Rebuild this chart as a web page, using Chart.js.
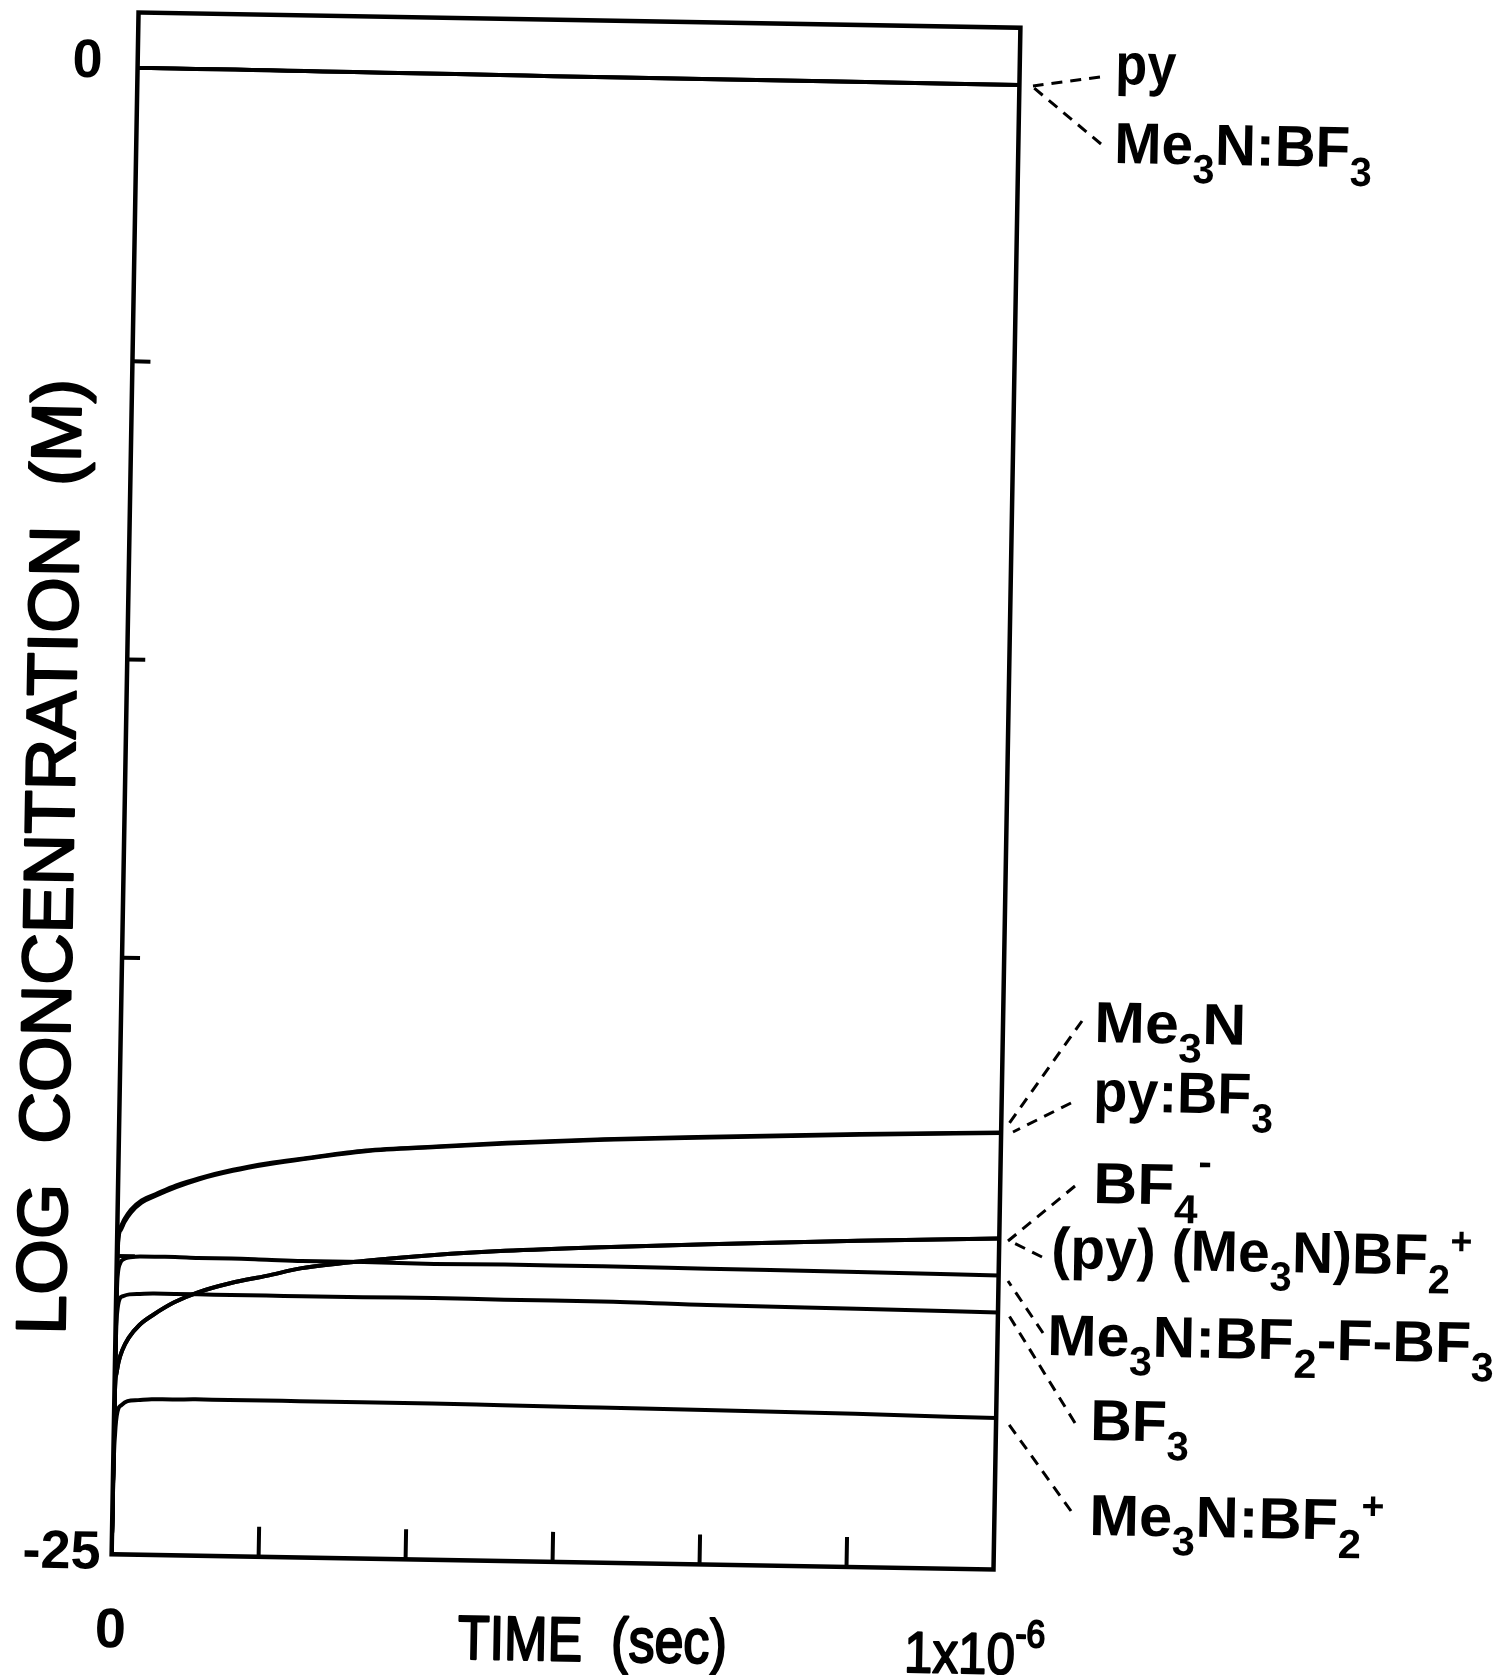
<!DOCTYPE html>
<html>
<head>
<meta charset="utf-8">
<script src="https://cdn.jsdelivr.net/npm/chart.js@4.4.1/dist/chart.umd.min.js"></script>
<style>
html,body{margin:0;padding:0;background:#fff;}
canvas{display:block;}
</style>
</head>
<body>
<canvas id="c" width="1502" height="1675"></canvas>
<script>
// ---------------- DATA ----------------
const TIME_S = [0, 5e-10, 1.5e-9, 4e-9, 8e-9, 1.5e-8, 2.7e-8, 4.3e-8, 6.6e-8, 9.2e-8, 1.3e-7, 1.7e-7, 2.1e-7, 2.8e-7, 3.6e-7, 4.4e-7, 5.5e-7, 6.7e-7, 8.4e-7, 1e-6];

const PY             = [-0.08,-0.08,-0.08,-0.08,-0.08,-0.08,-0.08,-0.08,-0.08,-0.08,-0.08,-0.085,-0.085,-0.09,-0.09,-0.095,-0.10,-0.10,-0.105,-0.11];
const ME3N_BF3       = [-0.08,-0.08,-0.08,-0.08,-0.08,-0.08,-0.08,-0.08,-0.08,-0.08,-0.08,-0.085,-0.085,-0.09,-0.09,-0.095,-0.10,-0.10,-0.105,-0.11];
const ME3N           = [-25,-20.6,-19.65,-19.5,-19.38,-19.22,-19.06,-18.95,-18.80,-18.67,-18.52,-18.40,-18.31,-18.16,-18.07,-17.99,-17.90,-17.83,-17.74,-17.67];
const PY_BF3         = [-25,-20.8,-19.72,-19.56,-19.43,-19.27,-19.10,-18.98,-18.83,-18.69,-18.54,-18.42,-18.32,-18.17,-18.08,-18.00,-17.91,-17.84,-17.75,-17.68];
const BF4            = [-25,-22.3,-22.0,-21.78,-21.58,-21.37,-21.15,-20.97,-20.76,-20.59,-20.42,-20.29,-20.15,-20.01,-19.89,-19.80,-19.71,-19.63,-19.53,-19.45];
const PY_ME3N_BF2    = [-25,-22.3,-22.0,-21.78,-21.58,-21.37,-21.15,-20.97,-20.76,-20.59,-20.42,-20.29,-20.15,-20.01,-19.89,-19.80,-19.71,-19.63,-19.53,-19.45];
const ME3N_BF2_F_BF3 = [-25,-21.0,-20.3,-20.12,-20.05,-20.02,-20.0,-20.0,-20.0,-20.01,-20.01,-20.02,-20.03,-20.03,-20.04,-20.03,-20.03,-20.04,-20.05,-20.07];
const BF3            = [-25,-21.6,-20.95,-20.72,-20.67,-20.64,-20.63,-20.62,-20.62,-20.62,-20.62,-20.62,-20.62,-20.62,-20.61,-20.62,-20.62,-20.65,-20.67,-20.69];
const ME3N_BF2       = [-25,-23.6,-23.0,-22.6,-22.5,-22.43,-22.41,-22.39,-22.39,-22.38,-22.38,-22.38,-22.38,-22.38,-22.38,-22.39,-22.40,-22.41,-22.43,-22.46];

const Y_MIN = -25, Y_MAX = 0.85;
const X_MIN = 0, X_MAX = 1e-6;
const Y_TICK_MARKS = [-5, -10, -15, -20];
const Y_TICK_LABELS = [0, -25];
const X_TICK_MARKS = [1.6667e-7, 3.3333e-7, 5e-7, 6.6667e-7, 8.3333e-7];

const X_TITLE = 'TIME  (sec)';
const Y_TITLE = 'LOG  CONCENTRATION  (M)';

// species labels: segments [text, kind]  n=normal, b=subscript, p=superscript, m=raised minus
const SPECIES = [
  {name:'py',               data: PY,             text:[['py','n']]},
  {name:'Me3N:BF3',         data: ME3N_BF3,       text:[['Me','n'],['3','b'],['N:BF','n'],['3','b']]},
  {name:'Me3N',             data: ME3N,           text:[['Me','n'],['3','b'],['N','n']]},
  {name:'py:BF3',           data: PY_BF3,         text:[['py:BF','n'],['3','b']]},
  {name:'BF4-',             data: BF4,            text:[['BF','n'],['4','b'],['-','m']]},
  {name:'(py)(Me3N)BF2+',   data: PY_ME3N_BF2,    text:[['(py) (Me','n'],['3','b'],['N)BF','n'],['2','b'],['+','p']]},
  {name:'Me3N:BF2-F-BF3',   data: ME3N_BF2_F_BF3, text:[['Me','n'],['3','b'],['N:BF','n'],['2','b'],['-F-BF','n'],['3','b']]},
  {name:'BF3',              data: BF3,            text:[['BF','n'],['3','b']]},
  {name:'Me3N:BF2+',        data: ME3N_BF2,       text:[['Me','n'],['3','b'],['N:BF','n'],['2','b'],['+','p']]}
];

// ---------------- LAYOUT (screen positions of annotations) ----------------
const FONT = '"Liberation Sans", Arial, Helvetica, sans-serif';
const TILT = 1.0 * Math.PI / 180;   // scan tilt
const CX = 566, CY = 792;           // tilt centre
// label left x, baseline y, fitted width
const LABEL_POS = [
  [1115, 84, 61], [1114, 163, 258], [1094, 1042, 152], [1093, 1111, 180],
  [1093, 1203, 118], [1051, 1268, 421], [1047, 1355, 447], [1090, 1440, 99], [1089, 1535, 295]
];
// dashed leaders: [x1,y1,x2,y2] (label end -> curve end)
const LEADERS = [
  [1100, 77, 1033, 86], [1101, 144, 1034, 88], [1082, 1021, 1008, 1125], [1071, 1103, 1013, 1132],
  [1075, 1186, 1008, 1241], [1042, 1257, 1010, 1241], [1043, 1333, 1008, 1281],
  [1075, 1423, 1008, 1314], [1071, 1511, 1005, 1419]
];

// ---------------- helpers ----------------
function segStyle(kind, size){
  if (kind === 'b') return {size: size*0.7, dy: size*0.32};
  if (kind === 'p') return {size: size*0.66, dy: -size*0.36};
  if (kind === 'm') return {size: size*0.66, dy: -size*0.52};
  if (kind === 'e') return {size: size*0.66, dy: -size*0.47};
  return {size: size, dy: 0};
}
function drawRich(c, segs, x, y, o){
  const weight = o.weight || 'bold';
  let w = 0;
  const parts = segs.map(([t,k]) => {
    const st = segStyle(k, o.size);
    c.font = weight + ' ' + st.size + 'px ' + FONT;
    const mw = c.measureText(t).width;
    w += mw;
    return {t, st, mw};
  });
  const k = o.width ? o.width / w : 1;
  c.save();
  c.translate(x, y);
  c.rotate(o.angle || 0);
  c.scale(k, 1);
  let cx = o.align === 'center' ? -w/2 : 0;
  c.fillStyle = '#000';
  c.strokeStyle = '#000';
  c.lineJoin = 'round';
  c.textAlign = 'left';
  c.textBaseline = 'alphabetic';
  parts.forEach(p => {
    c.font = weight + ' ' + p.st.size + 'px ' + FONT;
    c.fillText(p.t, cx, p.st.dy);
    if (o.stroke) { c.lineWidth = o.stroke; c.strokeText(p.t, cx, p.st.dy); }
    cx += p.mw;
  });
  c.restore();
}

const scanPlugin = {
  id: 'scan',
  beforeDraw(chart){
    const c = chart.ctx;
    c.save();
    c.translate(CX, CY); c.rotate(TILT); c.translate(-CX, -CY);
  },
  afterDraw(chart){
    const c = chart.ctx, a = chart.chartArea, xs = chart.scales.x, ys = chart.scales.y;
    // frame and inward tick marks
    c.save();
    c.strokeStyle = '#000';
    c.lineWidth = 4.5;
    c.strokeRect(a.left, a.top, a.right - a.left, a.bottom - a.top);
    c.lineWidth = 4;
    c.beginPath();
    Y_TICK_MARKS.forEach(v => { const p = ys.getPixelForValue(v); c.moveTo(a.left, p); c.lineTo(a.left + 18, p); });
    X_TICK_MARKS.forEach(v => { const p = xs.getPixelForValue(v); c.moveTo(p, a.bottom); c.lineTo(p, a.bottom - 30); });
    c.stroke();
    // x tick labels
    drawRich(c, [['0','n']], xs.getPixelForValue(X_MIN), a.bottom + 93, {size: 56, weight: 'bold', align: 'center'});
    drawRich(c, [['1x10','n'],['-6','e']], xs.getPixelForValue(X_MAX) - 88, a.bottom + 104, {size: 58, weight: 'normal', width: 141, stroke: 2});
    c.restore();
    c.restore(); // undo tilt

    // axis titles (screen coords, tilted like the scan)
    drawRich(c, [[X_TITLE,'n']], 592, 1661, {size: 62, weight: 'normal', width: 269, align: 'center', angle: TILT, stroke: 2.2});
    drawRich(c, [[Y_TITLE,'n']], 73, 857, {size: 70, weight: 'normal', width: 956, align: 'center', angle: -Math.PI/2 + TILT, stroke: 2.2});

    // species labels
    SPECIES.forEach((s, i) => {
      const [x, y, w] = LABEL_POS[i];
      drawRich(c, s.text, x, y, {size: 58, weight: 'bold', width: w, angle: TILT});
    });
    // dashed leaders
    c.save();
    c.strokeStyle = '#000';
    c.lineWidth = 3;
    c.setLineDash([11, 8]);
    c.lineCap = 'butt';
    LEADERS.forEach(([x1, y1, x2, y2]) => {
      c.beginPath(); c.moveTo(x1, y1); c.lineTo(x2, y2); c.stroke();
    });
    c.restore();
  }
};

const datasets = SPECIES.map(s => ({
  label: s.name,
  data: TIME_S.map((t, i) => ({x: t, y: s.data[i]})),
  borderColor: '#000',
  borderWidth: 4,
  pointRadius: 0,
  fill: false,
  cubicInterpolationMode: 'monotone'
}));

new Chart(document.getElementById('c'), {
  type: 'line',
  data: {datasets},
  options: {
    responsive: false,
    animation: false,
    devicePixelRatio: 1,
    events: [],
    layout: {padding: {top: 20, right: 495, bottom: 0, left: 0}},
    plugins: {legend: {display: false}, tooltip: {enabled: false}},
    scales: {
      x: {
        type: 'linear', min: X_MIN, max: X_MAX,
        ticks: {display: false},
        grid: {display: false, drawTicks: false},
        border: {display: false},
        afterFit(s){ s.height = 113; s.paddingLeft = 0; s.paddingRight = 0; }
      },
      y: {
        type: 'linear', min: Y_MIN, max: Y_MAX,
        ticks: {
          stepSize: 5, includeBounds: false, autoSkip: false,
          crossAlign: 'center', padding: 11,
          callback: v => Y_TICK_LABELS.includes(v) ? String(v) : '',
          font: {family: FONT, size: 54, weight: 'bold'},
          color: '#000'
        },
        grid: {display: false, drawTicks: false},
        border: {display: false},
        afterFit(s){ s.width = 125; s.paddingTop = 0; s.paddingBottom = 0; }
      }
    }
  },
  plugins: [scanPlugin]
});
</script>
</body>
</html>
